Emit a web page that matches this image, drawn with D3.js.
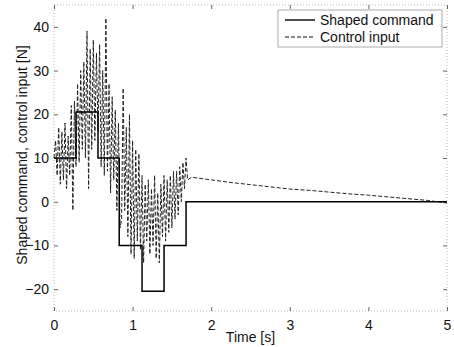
<!DOCTYPE html>
<html>
<head>
<meta charset="utf-8">
<script src="https://cdn.jsdelivr.net/npm/d3@7"></script>
<style>
  body { margin: 0; background: #fff; }
  svg text { font-family: "Liberation Sans", Arial, sans-serif; fill: #111; }
</style>
</head>
<body>
<div id="chart"></div>
<script>
// shaped command: step edges [s] and levels [N]
const stepTimes = [0, 0.28, 0.56, 0.83, 1.12, 1.40, 1.68, 5];
const stepLevels = [10, 20.5, 10, -10, -20.5, -10, 0, 0];

// control input, oscillating part sampled every 20 ms from t = 0
const ctrlDt = 0.02;
const ctrlValues = [
  10, 14, 6, 17, 4, 16, 5, 18, 3, 15, 6, 22, -2, 23, 8,
  27, 9, 30, 12, 32, 10, 39, 3, 35, 12, 37, 14, 34, 16,
  36, 8, 30, 6, 42, 7, 27, 2, 24, 5, 21, -2, 18,
  -6, -4, 26, -2, 17, -8, 20, -12, 14, -13, 12, -9, 11, -11, 6,
  -14, 4, -9, 5, -12, 3, -10, 6, -13, 2, -14, 4, -8, 6,
  -9, 5, -7, 6, -6, 7, -4, 7, -3, 8, 0, 9, 3, 10, 5
];
// control input, slow decay after the command settles
const tailTime = [1.75, 2.0, 2.25, 2.5, 2.75, 3.0, 3.25, 3.5, 3.75, 4.0, 4.25, 4.5, 4.75, 5.0];
const tailValue = [5.6, 5.0, 4.4, 3.9, 3.4, 2.9, 2.6, 2.2, 1.8, 1.5, 1.1, 0.7, 0.3, -0.3];

const xTicks = [0, 1, 2, 3, 4, 5];
const yTicks = [-20, -10, 0, 10, 20, 30, 40];

const W = 454, H = 347;
const margin = { top: 5, right: 7, bottom: 36, left: 54 };
const width = W - margin.left - margin.right;
const height = H - margin.top - margin.bottom;

const svg = d3.select('#chart').append('svg')
  .attr('width', W).attr('height', H);
const g = svg.append('g')
  .attr('transform', `translate(${margin.left},${margin.top})`);

const x = d3.scaleLinear().domain([0, 5]).range([0, width]);
const y = d3.scaleLinear().domain([-25, 45]).range([height, 0]);

// faint axes box (scanned figure)
g.append('rect')
  .attr('width', width).attr('height', height)
  .attr('fill', 'none').attr('stroke', '#bbb')
  .attr('stroke-dasharray', '1,2');

// ticks pointing inward, MATLAB style
const fmt = d3.format('d');
const axB = g.append('g').attr('transform', `translate(0,${height})`)
  .call(d3.axisBottom(x).tickValues(xTicks).tickFormat(fmt).tickSizeInner(-4).tickSizeOuter(0).tickPadding(9));
const axL = g.append('g')
  .call(d3.axisLeft(y).tickValues(yTicks).tickFormat(fmt).tickSizeInner(-4).tickSizeOuter(0).tickPadding(5));
const axT = g.append('g')
  .call(d3.axisTop(x).tickValues(xTicks).tickSizeInner(-4).tickSizeOuter(0).tickFormat(''));
const axR = g.append('g').attr('transform', `translate(${width},0)`)
  .call(d3.axisRight(y).tickValues(yTicks).tickSizeInner(-4).tickSizeOuter(0).tickFormat(''));
[axB, axL, axT, axR].forEach(a => {
  a.select('.domain').remove();
  a.selectAll('line').attr('stroke', '#666');
  a.selectAll('text').attr('font-size', 14);
});

// control input (dashed)
const ctrl = ctrlValues.map((v, i) => [i * ctrlDt, v])
  .concat(tailTime.map((t, i) => [t, tailValue[i]]));
const line = d3.line().x(d => x(d[0])).y(d => y(d[1]));
g.append('path')
  .datum(ctrl)
  .attr('fill', 'none').attr('stroke', '#222')
  .attr('stroke-width', 1).attr('stroke-dasharray', '4,2')
  .attr('d', line);

// shaped command (solid step)
const cmd = stepTimes.map((t, i) => [t, stepLevels[i]]);
g.append('path')
  .datum(cmd)
  .attr('fill', 'none').attr('stroke', '#000')
  .attr('stroke-width', 1.5)
  .attr('d', line.curve(d3.curveStepAfter));

// axis labels
svg.append('text')
  .attr('x', margin.left + width / 2).attr('y', 342)
  .attr('text-anchor', 'middle').attr('font-size', 14)
  .text('Time [s]');
svg.append('text')
  .attr('transform', `translate(27,${margin.top + height / 2 - 3}) rotate(-90)`)
  .attr('text-anchor', 'middle').attr('font-size', 14)
  .text('Shaped command, control input [N]');

// legend
const lg = svg.append('g').attr('transform', 'translate(278,10)');
lg.append('rect')
  .attr('width', 164).attr('height', 37)
  .attr('fill', '#fff').attr('stroke', '#aaa');
const legendItems = [
  { label: 'Shaped command', dash: null, w: 1.5 },
  { label: 'Control input', dash: '4,2', w: 1 }
];
legendItems.forEach((d, i) => {
  const yy = 10 + i * 17;
  lg.append('line')
    .attr('x1', 7).attr('x2', 37).attr('y1', yy).attr('y2', yy)
    .attr('stroke', '#111').attr('stroke-width', d.w)
    .attr('stroke-dasharray', d.dash);
  lg.append('text')
    .attr('x', 42).attr('y', yy + 5)
    .attr('font-size', 14)
    .text(d.label);
});
</script>
</body>
</html>
